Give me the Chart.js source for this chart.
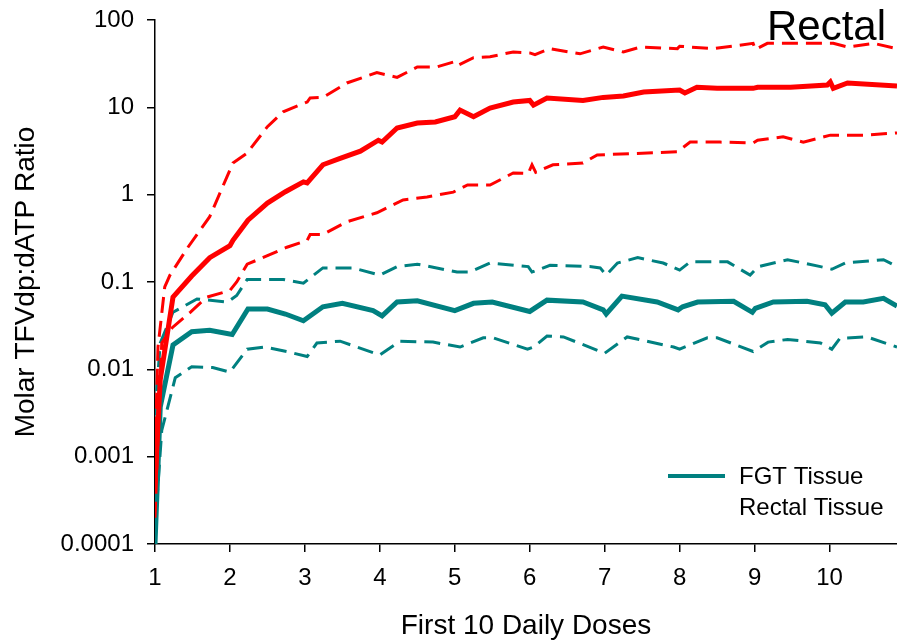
<!DOCTYPE html>
<html>
<head>
<meta charset="utf-8">
<script src="https://cdn.jsdelivr.net/npm/chart.js@4"></script>
<style>
  body { margin:0; background:#fff; }
  #wrap { width:897px; height:643px; position:relative; }
</style>
</head>
<body>
<div id="wrap"><canvas id="chart"></canvas></div>
<script>

// [dose, ratio] pairs
const rectalMedian = [[1.0,0.0005],[1.07,0.0076],[1.24,0.067],[1.49,0.117],[1.73,0.19],[2.0,0.26],[2.04,0.30],[2.24,0.51],[2.5,0.8],[2.74,1.08],[2.98,1.4],[3.03,1.36],[3.24,2.2],[3.47,2.6],[3.74,3.15],[3.98,4.2],[4.03,4.0],[4.23,5.8],[4.5,6.6],[4.74,6.8],[5.0,7.8],[5.07,9.3],[5.25,7.8],[5.47,9.8],[5.78,11.5],[6.0,12],[6.05,10.6],[6.23,12.8],[6.71,12],[6.98,13],[7.25,13.5],[7.52,15],[8.0,15.8],[8.07,14.6],[8.23,17],[8.5,16.5],[8.98,16.5],[9.04,17],[9.48,17],[9.97,18],[10.01,19.5],[10.05,16.5],[10.24,19],[10.9,17.5]];

const rectalUpper = [[1.0,0.001],[1.04,0.018],[1.13,0.088],[1.2,0.12],[1.44,0.25],[1.73,0.56],[1.96,1.6],[2.04,2.3],[2.23,3.0],[2.5,6],[2.71,8.9],[3.03,11.5],[3.07,12.8],[3.24,13],[3.56,19],[3.87,23.5],[3.96,25],[4.23,22],[4.5,29],[4.76,29],[4.98,33],[5.03,30],[5.25,37],[5.47,38],[5.78,43],[6.0,42],[6.07,40],[6.27,47],[6.67,41],[6.98,49],[7.25,43],[7.48,49],[7.97,47],[8.0,50],[8.45,47],[8.98,54],[9.01,46],[9.17,54],[10.05,54],[10.24,49],[10.59,54],[10.9,47]];

const rectalLower = [[1.0,0.0002],[1.09,0.02],[1.23,0.03],[1.47,0.045],[1.69,0.067],[2.0,0.08],[2.09,0.1],[2.23,0.16],[2.5,0.2],[2.76,0.25],[3.03,0.3],[3.07,0.35],[3.24,0.35],[3.56,0.49],[3.96,0.62],[4.04,0.67],[4.31,0.87],[4.63,0.94],[4.98,1.07],[5.17,1.29],[5.47,1.29],[5.78,1.77],[5.98,1.75],[6.03,2.2],[6.08,1.8],[6.31,2.2],[6.71,2.3],[6.9,2.85],[7.57,3.0],[7.97,3.1],[8.14,4.0],[8.54,4.0],[8.98,3.9],[9.04,4.2],[9.38,4.6],[9.65,4.0],[10.01,4.8],[10.45,4.8],[10.9,5.1]];

const fgtMedian = [[1.0,0.0001],[1.07,0.0037],[1.24,0.019],[1.49,0.027],[1.73,0.028],[2.03,0.025],[2.24,0.049],[2.5,0.049],[2.74,0.043],[2.98,0.036],[3.24,0.052],[3.5,0.057],[3.91,0.047],[4.03,0.041],[4.23,0.059],[4.5,0.061],[5.0,0.047],[5.25,0.057],[5.5,0.059],[6.0,0.046],[6.23,0.062],[6.71,0.059],[6.98,0.048],[7.02,0.043],[7.23,0.069],[7.7,0.059],[7.98,0.048],[8.04,0.052],[8.24,0.059],[8.72,0.06],[8.97,0.045],[9.01,0.05],[9.25,0.059],[9.7,0.06],[9.94,0.055],[10.03,0.044],[10.21,0.059],[10.45,0.059],[10.72,0.065],[10.9,0.053]];

const fgtUpper = [[1.0,0.003],[1.07,0.02],[1.24,0.045],[1.56,0.064],[1.97,0.059],[2.09,0.07],[2.23,0.107],[2.71,0.107],[2.98,0.097],[3.24,0.145],[3.64,0.145],[4.0,0.12],[4.23,0.15],[4.5,0.16],[5.03,0.13],[5.2,0.13],[5.47,0.165],[5.98,0.15],[6.03,0.13],[6.27,0.155],[6.8,0.15],[6.94,0.145],[7.02,0.12],[7.17,0.165],[7.44,0.19],[7.78,0.165],[8.0,0.137],[8.14,0.17],[8.64,0.17],[8.94,0.12],[9.05,0.15],[9.44,0.18],[9.88,0.15],[10.03,0.14],[10.21,0.165],[10.72,0.18],[10.9,0.15]];

const fgtLower = [[1.0,0.00015],[1.09,0.002],[1.27,0.008],[1.49,0.0107],[1.77,0.0105],[2.0,0.0093],[2.23,0.017],[2.47,0.018],[2.76,0.016],[3.03,0.014],[3.16,0.02],[3.47,0.021],[4.0,0.0146],[4.27,0.021],[4.71,0.0205],[5.07,0.018],[5.38,0.023],[5.51,0.023],[5.97,0.017],[6.05,0.018],[6.23,0.024],[6.45,0.0235],[7.0,0.0153],[7.3,0.0235],[7.92,0.018],[8.0,0.017],[8.37,0.023],[8.5,0.023],[8.98,0.016],[9.18,0.0205],[9.44,0.022],[9.88,0.02],[10.03,0.017],[10.14,0.0227],[10.5,0.0235],[10.9,0.018]];

const xTicks = [1,2,3,4,5,6,7,8,9,10];
const yTicks = [0.0001,0.001,0.01,0.1,1,10,100];

const RED = "#ff0000";
const TEAL = "#008080";
const FONT = "'Liberation Sans', Arial, sans-serif";

function pts(arr){
    return arr.map(p => ({x:p[0], y:p[1]}));
}

function line(label, arr, color, dashed){
    return {
        label: label,
        data: pts(arr),
        borderColor: color,
        backgroundColor: color,
        borderWidth: dashed ? 3 : 5,
        borderDash: dashed ? [16, 8] : [],
        pointRadius: 0,
        tension: 0,
        fill: false
    };
}

// title and legend sit inside the plot, so draw them by hand
const overlay = {
    id: "overlay",
    afterDraw(chart){
        const ctx = chart.ctx;
        ctx.save();
        ctx.fillStyle = "#000";
        ctx.font = "42px " + FONT;
        ctx.textAlign = "right";
        ctx.textBaseline = "alphabetic";
        ctx.fillText("Rectal", 886, 40);

        ctx.strokeStyle = TEAL;
        ctx.lineWidth = 4;
        ctx.beginPath();
        ctx.moveTo(668, 476);
        ctx.lineTo(725, 476);
        ctx.stroke();

        ctx.font = "24px " + FONT;
        ctx.textAlign = "left";
        ctx.textBaseline = "middle";
        ctx.fillText("FGT Tissue", 739, 477);
        ctx.fillText("Rectal Tissue", 739, 508);
        ctx.restore();
    }
};

new Chart(document.getElementById("chart"), {
    type: "line",
    data: {
        datasets: [
            line("Rectal Tissue", rectalMedian, RED, false),
            line("Rectal upper", rectalUpper, RED, true),
            line("Rectal lower", rectalLower, RED, true),
            line("FGT Tissue", fgtMedian, TEAL, false),
            line("FGT upper", fgtUpper, TEAL, true),
            line("FGT lower", fgtLower, TEAL, true)
        ]
    },
    options: {
        responsive: true,
        maintainAspectRatio: false,
        animation: false,
        layout: { padding: { top: 20, right: 0, left: 0, bottom: 0 } },
        plugins: {
            legend: { display: false },
            tooltip: { enabled: false }
        },
        scales: {
            x: {
                type: "linear",
                min: 1,
                max: 10.9,
                afterBuildTicks: s => { s.ticks = xTicks.map(v => ({value: v})); },
                afterFit: s => { s.height = 99; s.paddingLeft = 0; s.paddingRight = 0; },
                ticks: {
                    color: "#000",
                    font: { family: FONT, size: 24 },
                    padding: 12,
                    maxRotation: 0
                },
                grid: {
                    display: true,
                    drawOnChartArea: false,
                    drawTicks: true,
                    tickLength: 8,
                    tickColor: "#000",
                    lineWidth: 1.5
                },
                border: { display: true, color: "#000", width: 1.5 },
                title: {
                    display: true,
                    text: "First 10 Daily Doses",
                    color: "#000",
                    font: { family: FONT, size: 28 },
                    padding: { top: 0, bottom: 0 }
                }
            },
            y: {
                type: "logarithmic",
                min: 0.0001,
                max: 100,
                afterBuildTicks: s => { s.ticks = yTicks.map(v => ({value: v})); },
                afterFit: s => { s.width = 155; s.paddingTop = 0; s.paddingBottom = 0; },
                ticks: {
                    color: "#000",
                    font: { family: FONT, size: 24 },
                    padding: 13,
                    callback: v => String(v)
                },
                grid: {
                    display: true,
                    drawOnChartArea: false,
                    drawTicks: true,
                    tickLength: 8,
                    tickColor: "#000",
                    lineWidth: 1.5
                },
                border: { display: true, color: "#000", width: 1.5 },
                title: {
                    display: true,
                    text: "Molar TFVdp:dATP Ratio",
                    color: "#000",
                    font: { family: FONT, size: 28 },
                    padding: { top: 9, bottom: 0 }
                }
            }
        }
    },
    plugins: [overlay]
});

</script>
</body>
</html>
